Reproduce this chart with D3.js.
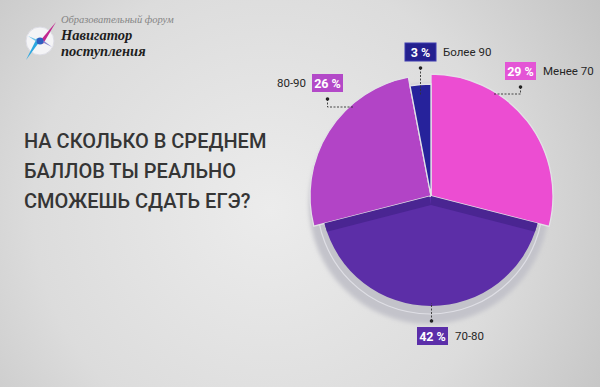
<!DOCTYPE html>
<html><head><meta charset="utf-8">
<script src="https://cdn.jsdelivr.net/npm/d3@7"></script>
<style>html,body{margin:0;padding:0;overflow:hidden;}svg{display:block;}</style>
</head><body>
<svg id="c" width="600" height="387"></svg>
<script>
// ---- data ----
const categories = ["Менее 70", "70-80", "80-90", "Более 90"];
const values = [29, 42, 26, 3];
const valueLabels = ["29 %", "42 %", "26 %", "3 %"];
const titleLines = ["НА СКОЛЬКО В СРЕДНЕМ", "БАЛЛОВ ТЫ РЕАЛЬНО", "СМОЖЕШЬ СДАТЬ ЕГЭ?"];
const logoLines = ["Образовательный форум", "Навигатор", "поступления"];

// ---- style ----
const sliceColors = ["#EC4DD2", "#5C2EA7", "#B244C6", "#26229B"];
const boxColors = ["#E455D6", "#5B2EA9", "#B349C8", "#24208F"];
const W = 600, H = 387;
const cx = 431, cy = 196;
const radiusFor = i => [122, 110, 121, 112][i];

const svg = d3.select("#c");
const defs = svg.append("defs");
const bg = defs.append("radialGradient").attr("id", "bg")
  .attr("gradientUnits", "userSpaceOnUse").attr("cx", 270).attr("cy", 210).attr("r", 430);
bg.append("stop").attr("offset", "0").attr("stop-color", "#ececec");
bg.append("stop").attr("offset", "0.55").attr("stop-color", "#dcdcdc");
bg.append("stop").attr("offset", "1").attr("stop-color", "#bebebe");
defs.append("filter").attr("id", "blur").attr("x", "-20%").attr("y", "-20%").attr("width", "140%").attr("height", "140%")
  .append("feGaussianBlur").attr("stdDeviation", 2);

svg.append("rect").attr("width", W).attr("height", H).attr("fill", "url(#bg)");

// ---- logo ----
const logo = svg.append("g");
logo.append("circle").attr("cx", 40).attr("cy", 41).attr("r", 14).attr("fill", "#f4f4f6").attr("stroke", "#dcdce4");
logo.append("path").attr("d", "M40,41 L56,22 L43,44 Z").attr("fill", "#c2278f");
logo.append("path").attr("d", "M40,41 L26,60 L37,38 Z").attr("fill", "#2aa7e0");
logo.append("path").attr("d", "M40,41 L28,36 L40,44 Z").attr("fill", "#6bc3ea");
logo.append("path").attr("d", "M40,41 L52,47 L40,38 Z").attr("fill", "#8a8ad0");
logo.append("circle").attr("cx", 40).attr("cy", 41).attr("r", 3.5).attr("fill", "#2f5fc0");
logo.append("text").attr("x", 61).attr("y", 23).text(logoLines[0])
  .attr("font-family", "'Liberation Serif', serif").attr("font-style", "italic").attr("font-size", 10.5).attr("fill", "#858585");
logo.append("text").attr("x", 61).attr("y", 40).text(logoLines[1])
  .attr("font-family", "'Liberation Serif', serif").attr("font-style", "italic").attr("font-weight", "bold").attr("font-size", 14.5).attr("fill", "#1e1e1e");
logo.append("text").attr("x", 61).attr("y", 56).text(logoLines[2])
  .attr("font-family", "'Liberation Serif', serif").attr("font-style", "italic").attr("font-weight", "bold").attr("font-size", 14.5).attr("fill", "#1e1e1e");

// ---- title ----
svg.append("g").selectAll("text").data(titleLines).join("text")
  .attr("x", 24).attr("y", (d, i) => 148 + i * 30)
  .attr("font-family", "Roboto, sans-serif").attr("font-weight", 500).attr("font-size", 20)
  .attr("fill", "#353535").text(d => d);

// ---- pie ----
const pie = d3.pie().sort(null).value(d => d).startAngle(0).endAngle(2 * Math.PI);
const arcs = pie(values);
const arcFor = i => d3.arc().innerRadius(0).outerRadius(radiusFor(i));
const g = svg.append("g").attr("transform", `translate(${cx},${cy})`);

// shadow under the pie
g.append("circle").attr("cx", -2).attr("cy", 8).attr("r", 120)
  .attr("fill", "#c3c3ca").attr("filter", "url(#blur)");
g.append("circle").attr("cx", -1).attr("cy", 5).attr("r", 113)
  .attr("fill", "none").attr("stroke", "#e6e6ec").attr("stroke-width", 1.2).attr("opacity", 0.8);

// clip path of the big slice
defs.append("clipPath").attr("id", "clipBig").append("path")
  .attr("transform", `translate(${cx},${cy})`).attr("d", arcFor(1)(arcs[1]));

// big slice
g.append("path").attr("d", arcFor(1)(arcs[1])).attr("fill", sliceColors[1]);
// shadow band cast by the upper slices
const band = svg.append("g").attr("clip-path", "url(#clipBig)")
  .append("g").attr("transform", `translate(${cx},${cy + 9})`);
[0, 2].forEach(i => band.append("path").attr("d", arcFor(i)(arcs[i])).attr("fill", "#4A2592"));

// other slices
[0, 2, 3].forEach(i => g.append("path").attr("d", arcFor(i)(arcs[i]))
  .attr("fill", sliceColors[i]).attr("stroke", "#e2e2e6").attr("stroke-width", 1.3));

// ---- labels ----
const boxes = [
  {x: 505, y: 62, side: "right", leader: "leftElbow"},
  {x: 417, y: 327, side: "right", leader: "up"},
  {x: 312, y: 74, side: "left", leader: "rightElbow"},
  {x: 405, y: 43, side: "right", leader: "down"}
];
const bw = 31, bh = 18;
const lab = svg.append("g");
arcs.forEach((a, i) => {
  const b = boxes[i];
  const mx = b.x + bw / 2;
  let pts, dot;
  if (b.leader === "down") {
    dot = [mx, b.y + bh + 7];
    pts = [dot, [mx, cy - radiusFor(i) + 12]];
  } else if (b.leader === "up") {
    dot = [mx - 1, b.y - 6];
    pts = [dot, [mx - 1, cy + radiusFor(i) - 3]];
  } else if (b.leader === "leftElbow") {
    dot = [mx, b.y + bh + 7];
    pts = [dot, [mx, b.y + bh + 14], [mx - 28, b.y + bh + 14]];
  } else {
    dot = [mx, b.y + bh + 7];
    pts = [dot, [mx, b.y + bh + 15], [mx + 27, b.y + bh + 15]];
  }
  lab.append("path").attr("d", d3.line()(pts)).attr("fill", "none")
    .attr("stroke", "#333").attr("stroke-width", 0.9).attr("stroke-dasharray", "2,1.5");
  lab.append("circle").attr("cx", dot[0]).attr("cy", dot[1]).attr("r", 1.8).attr("fill", "#222");
  lab.append("rect").attr("x", b.x).attr("y", b.y).attr("width", bw).attr("height", bh)
    .attr("fill", boxColors[i]).attr("stroke", i === 3 ? "#3d3bb0" : "none").attr("stroke-width", 1);
  lab.append("text").attr("x", mx).attr("y", b.y + bh / 2 + 4.5).attr("text-anchor", "middle")
    .attr("font-family", "Roboto, sans-serif").attr("font-weight", 700).attr("font-size", 12.5)
    .attr("fill", "#fff").text(valueLabels[i]);
  lab.append("text")
    .attr("x", b.side === "right" ? b.x + bw + 7 : b.x - 6)
    .attr("y", b.y + bh / 2 + 4)
    .attr("text-anchor", b.side === "right" ? "start" : "end")
    .attr("font-family", "Roboto, sans-serif").attr("font-size", 11.5)
    .attr("fill", "#262626").text(categories[i]);
});
</script>
</body></html>
